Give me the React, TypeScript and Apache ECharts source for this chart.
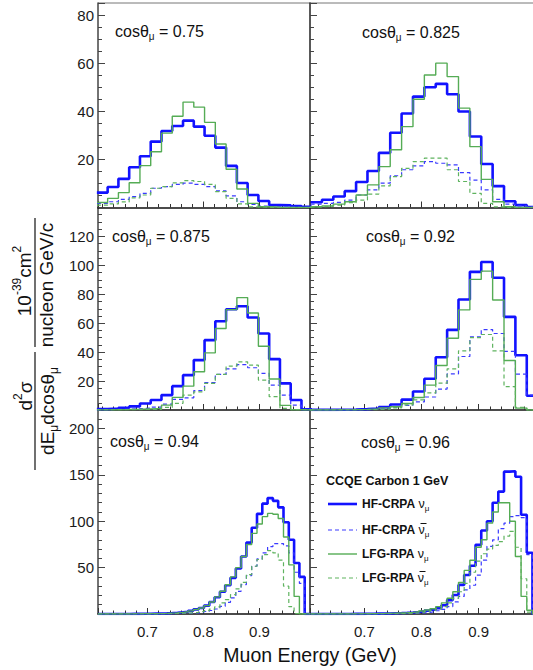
import React, { useEffect, useRef } from 'react';
import * as echarts from 'echarts';

const FONT = '"Liberation Sans", Arial, Helvetica, sans-serif';

// ---------- data ----------
const cosThetaValues = ['0.75', '0.825', '0.875', '0.92', '0.94', '0.96'];
const seriesNames = ['HF-CRPA νμ', 'HF-CRPA ν̄μ', 'LFG-RPA νμ', 'LFG-RPA ν̄μ'];

// first bin edge and bin width (GeV) of each panel's histograms
const binStart = [0.61, 0.606, 0.61, 0.606, 0.612, 0.606];
const binWidth = [0.0192, 0.0199, 0.0192, 0.0199, 0.00945, 0.00995];

// x ranges (left column / right column), y ranges per row
const xRangeLeft = [0.612, 0.99];
const xRangeRight = [0.605, 0.995];
const yMaxByRow = [85, 140, 220];
const yStepByRow = [20, 20, 50];
const yMinorSplitByRow = [4, 4, 5];
const xStep = 0.1;

// cos = 0.75
const c075HfNu = [6.2, 8.5, 11.9, 16.7, 21.3, 27.4, 31.8, 33.9, 36.1, 33.6, 29.8, 24.9, 17.3, 10.2, 5.2, 2.7, 1.0, 0.9, 0.6, 0.3];
const c075HfNubar = [1.7, 2.4, 3.4, 4.5, 5.9, 8.0, 8.7, 9.6, 10.1, 9.6, 8.7, 6.9, 4.8, 2.4, 1.3, 0.6, 0.3, 0.2, 0.1, 0];
const c075LfgNu = [2.1, 3.8, 6.2, 10.3, 17.4, 23.2, 30.9, 37.9, 43.8, 41.7, 35.4, 26.4, 15.9, 7.7, 1.7, 0.3, 0.1, 0, 0, 0];
const c075LfgNubar = [1.0, 1.5, 2.3, 4.0, 5.2, 8.0, 8.7, 10.2, 11.2, 10.8, 9.6, 6.6, 3.8, 1.5, 0.3, 0.1, 0, 0, 0, 0];

// cos = 0.825
const c0825HfNu = [2.2, 3.2, 4.6, 6.8, 10.6, 15.2, 22.7, 31.1, 39.1, 46.1, 50.0, 51.4, 47.1, 39.9, 29.5, 18.1, 8.9, 2.6, 1.0, 0.2];
const c0825HfNubar = [1.4, 1.7, 2.1, 3.1, 5.2, 7.3, 10.1, 13.2, 15.7, 17.3, 19.1, 18.4, 17.7, 14.5, 11.4, 7.3, 3.4, 1.4, 0.7, 0.3];
const c0825LfgNu = [0.3, 0.6, 1.4, 2.4, 5.2, 9.4, 17.0, 24.0, 33.6, 45.0, 55.1, 60.0, 54.4, 41.3, 25.3, 11.7, 2.4, 0.3, 0, 0];
const c0825LfgNubar = [0.3, 0.5, 1.0, 2.0, 3.1, 5.6, 9.0, 12.8, 16.3, 19.1, 20.5, 20.5, 15.7, 10.8, 5.9, 1.7, 0.3, 0, 0, 0];

// cos = 0.875
const c0875HfNu = [0.6, 1.0, 1.5, 2.5, 4.5, 6.9, 10.3, 16.5, 24.1, 34.5, 48.3, 61.4, 69.7, 71.7, 63.9, 52.9, 35.2, 18.4, 6.9, 0.5];
const c0875HfNubar = [0.2, 0.4, 0.6, 0.9, 1.3, 2.0, 4.0, 7.4, 8.4, 13.4, 18.9, 24.6, 28.5, 31.4, 29.2, 25.3, 17.2, 10.3, 3.4, 0.4];
const c0875LfgNu = [0.1, 0.2, 0.3, 0.5, 0.8, 1.1, 3.4, 8.7, 16.5, 26.4, 39.5, 56.3, 69.4, 77.7, 67.1, 44.1, 21.4, 3.2, 0.2, 0];
const c0875LfgNubar = [0.1, 0.2, 0.2, 0.3, 0.4, 0.5, 1.8, 4.6, 10.3, 12.6, 18.4, 24.6, 30.3, 33.3, 31.0, 20.7, 9.2, 1.1, 0.2, 0];

// cos = 0.92
const c092HfNu = [0.1, 0.1, 0.2, 0.3, 0.6, 1.0, 2.0, 3.8, 7.2, 12.8, 21.6, 36.5, 55.4, 76.4, 95.5, 102.3, 91.4, 64.4, 37.9, 9.9];
const c092HfNubar = [0, 0.1, 0.1, 0.2, 0.3, 0.6, 1.0, 1.8, 3.2, 5.6, 9.0, 14.5, 25.0, 37.0, 50.5, 55.6, 52.9, 40.6, 24.8, 10.3];
const c092LfgNu = [0, 0, 0.1, 0.2, 0.4, 0.8, 1.5, 2.2, 4.5, 8.6, 17.2, 30.8, 49.6, 69.2, 90.3, 96.0, 76.0, 34.2, 1.3, 0];
const c092LfgNubar = [0, 0, 0.1, 0.1, 0.2, 0.3, 0.6, 1.5, 3.5, 7.0, 11.8, 18.6, 28.5, 40.9, 50.1, 52.2, 40.9, 16.1, 1.8, 0];

// cos = 0.94
const c094HfNu = [0, 0, 0, 0, 0, 0, 0.1, 0.1, 0.2, 0.3, 0.4, 0.5, 0.7, 1.0, 1.4, 1.9, 2.5, 3.5, 5.0, 6.5, 9, 13, 18, 24, 31, 39, 49, 62, 77, 93, 108, 119, 125, 122, 115, 99, 80, 55, 40, 0];
const c094HfNubar = [0, 0, 0, 0, 0, 0, 0, 0.1, 0.1, 0.1, 0.2, 0.2, 0.3, 0.4, 0.5, 0.6, 0.8, 0.9, 1.3, 1.9, 2.7, 3.8, 5.4, 8.3, 12.6, 17.3, 24.5, 31.7, 41.4, 51.5, 59.5, 65.9, 72.6, 76, 76, 73.5, 65.9, 45, 33, 0];
const c094LfgNu = [0, 0, 0, 0, 0, 0, 0.1, 0.1, 0.2, 0.2, 0.3, 0.4, 0.6, 0.9, 1.2, 1.7, 2.4, 3.4, 4.8, 6.5, 9, 13, 18.5, 24.5, 31.5, 40, 50, 62, 75, 87, 97, 105, 108.5, 107.5, 103, 83, 53, 19, 0, 0];
const c094LfgNubar = [0, 0, 0, 0, 0, 0, 0, 0.1, 0.1, 0.2, 0.2, 0.3, 0.4, 0.5, 0.6, 0.8, 1.0, 1.3, 1.7, 2.5, 3.6, 5.3, 7.6, 11.9, 15.5, 20.9, 27, 34.2, 42.5, 51.5, 58.8, 64.1, 68.4, 65.9, 58, 30, 8, 0.5, 0, 0];

// cos = 0.96
const c096HfNu = [0, 0, 0, 0, 0, 0, 0, 0.1, 0.1, 0.2, 0.3, 0.4, 0.5, 0.6, 0.8, 1.0, 1.3, 1.7, 2.2, 2.8, 3.6, 4.6, 6.2, 9.5, 15, 20.5, 31.4, 42, 52, 74.6, 90, 100, 120, 132, 153.5, 154, 148, 107, 66, 0];
const c096HfNubar = [0, 0, 0, 0, 0, 0, 0, 0, 0.1, 0.1, 0.1, 0.2, 0.2, 0.3, 0.3, 0.4, 0.4, 0.6, 0.9, 1.3, 1.8, 2.5, 3.5, 5, 8, 13, 19, 26, 31, 42, 58, 73, 80, 92, 98, 105, 106, 104, 64, 0];
const c096LfgNu = [0, 0, 0, 0, 0, 0, 0, 0.1, 0.1, 0.2, 0.3, 0.4, 0.5, 0.7, 0.9, 1.1, 1.3, 1.8, 2.5, 3.3, 4.3, 5.6, 8, 12, 17, 24, 34, 47, 58, 72, 80, 98, 110, 120, 120, 100, 62, 19, 4, 0];
const c096LfgNubar = [0, 0, 0, 0, 0, 0, 0, 0, 0.1, 0.1, 0.2, 0.2, 0.3, 0.3, 0.4, 0.5, 0.5, 0.8, 1.2, 1.8, 2.6, 3.8, 5.5, 8, 12, 17, 24, 33, 45, 57, 65, 70, 74, 78, 84, 89, 72, 38, 2, 0];

const panelSeries = [
  [c075HfNu, c075HfNubar, c075LfgNu, c075LfgNubar],
  [c0825HfNu, c0825HfNubar, c0825LfgNu, c0825LfgNubar],
  [c0875HfNu, c0875HfNubar, c0875LfgNu, c0875LfgNubar],
  [c092HfNu, c092HfNubar, c092LfgNu, c092LfgNubar],
  [c094HfNu, c094HfNubar, c094LfgNu, c094LfgNubar],
  [c096HfNu, c096HfNubar, c096LfgNu, c096LfgNubar],
];

// ---------- layout & style ----------
const COL_LEFT = [98, 310];
const COL_WIDTH = [212, 223];
const ROW_TOP = [3, 207.5, 410];
const ROW_HEIGHT = [204.5, 202.5, 204];
const LABEL_POS = [[115, 31], [362, 32], [112, 236], [366, 236], [110, 441], [361, 442]];

const LINE_STYLES = [
  { color: '#1212ff', width: 2.6, type: 'solid' as any, z: 3 },
  { color: '#3a3aff', width: 1.2, type: [4, 3] as any, z: 3 },
  { color: '#55ac55', width: 1.4, type: 'solid' as any, z: 4 },
  { color: '#5fb35f', width: 1.2, type: [4, 3] as any, z: 4 },
];

function histPoints(start: number, width: number, vals: number[]) {
  const pts: number[][] = [];
  vals.forEach((v, k) => {
    const a = start + k * width;
    pts.push([a, v], [a + width, v]);
  });
  pts.push([start + vals.length * width, 0]);
  return pts;
}

function buildOption() {
  const grid: any[] = [];
  const xAxis: any[] = [];
  const yAxis: any[] = [];
  const series: any[] = [];
  for (let i = 0; i < 6; i++) {
    const col = i % 2;
    const row = Math.floor(i / 2);
    grid.push({ left: COL_LEFT[col], top: ROW_TOP[row], width: COL_WIDTH[col], height: ROW_HEIGHT[row] });
    const xr = col === 0 ? xRangeLeft : xRangeRight;
    xAxis.push({
      type: 'value', gridIndex: i, min: xr[0], max: xr[1],
      splitNumber: 4, minInterval: xStep, maxInterval: xStep,
      axisLine: { show: true, onZero: false, lineStyle: { color: '#111', width: 1.5 } },
      axisTick: { show: true, inside: true, length: 6, lineStyle: { color: '#333', width: 1 } },
      minorTick: { show: true, splitNumber: 5, length: 3.5, lineStyle: { color: '#333', width: 1 } },
      axisLabel: {
        show: row === 2, margin: 10, fontSize: 15, color: '#1a1a1a', fontFamily: FONT,
        showMinLabel: false, showMaxLabel: false, formatter: (v: number) => v.toFixed(1),
      },
      splitLine: { show: false },
    });
    yAxis.push({
      type: 'value', gridIndex: i, min: 0, max: yMaxByRow[row],
      splitNumber: 5, minInterval: yStepByRow[row], maxInterval: yStepByRow[row],
      axisLine: { show: true, onZero: false, lineStyle: { color: col === 0 ? '#444' : '#222', width: 1.5 } },
      axisTick: { show: true, inside: true, length: 7, lineStyle: { color: '#444', width: 1 } },
      minorTick: { show: true, splitNumber: yMinorSplitByRow[row], length: 4, lineStyle: { color: '#444', width: 1 } },
      axisLabel: {
        show: col === 0, margin: 4, fontSize: 15, color: '#1a1a1a', fontFamily: FONT,
        showMinLabel: false, showMaxLabel: false,
      },
      splitLine: { show: false },
    });
    panelSeries[i].forEach((vals, s) => {
      const st = LINE_STYLES[s];
      series.push({
        type: 'line', name: seriesNames[s], xAxisIndex: i, yAxisIndex: i,
        data: histPoints(binStart[i], binWidth[i], vals),
        showSymbol: false, symbol: 'none', clip: true, z: st.z,
        lineStyle: { color: st.color, width: st.width, type: st.type },
        itemStyle: { color: st.color },
      });
    });
  }

  const graphic: any[] = [];
  graphic.push({ type: 'line', silent: true, shape: { x1: 98, y1: 3, x2: 533, y2: 3 }, style: { stroke: '#777', lineWidth: 1 } });

  const cosRich = {
    a: { fontSize: 16, fontFamily: FONT, fill: '#111', lineHeight: 20 },
    s: { fontSize: 10, fontFamily: FONT, fill: '#111', lineHeight: 20, verticalAlign: 'bottom' },
  };
  cosThetaValues.forEach((c, i) => {
    graphic.push({
      type: 'text', silent: true, x: LABEL_POS[i][0], y: LABEL_POS[i][1],
      style: { text: `{a|cosθ}{s|μ}{a| = ${c}}`, rich: cosRich, align: 'left', verticalAlign: 'middle', textAlign: 'left', textVerticalAlign: 'middle' },
    });
  });

  // y axis title (rotated fractions)
  const tRich = {
    n: { fontSize: 19, fontFamily: FONT, fill: '#111', lineHeight: 26 },
    sup: { fontSize: 12, fontFamily: FONT, fill: '#111', lineHeight: 26, verticalAlign: 'top' },
    sub: { fontSize: 12, fontFamily: FONT, fill: '#111', lineHeight: 26, verticalAlign: 'bottom' },
  };
  const rot = Math.PI / 2;
  const rotText = (x: number, y: number, text: string) => ({
    type: 'text', silent: true, x, y, rotation: rot,
    style: { text, rich: tRich, align: 'center', verticalAlign: 'middle', textAlign: 'center', textVerticalAlign: 'middle' },
  });
  graphic.push(rotText(24, 281, '{n|10}{sup|-39}{n|cm}{sup|2}'));
  graphic.push(rotText(46, 285, '{n|nucleon GeV/c}'));
  graphic.push(rotText(25, 396, '{n|d}{sup|2}{n|σ}'));
  graphic.push(rotText(47, 411, '{n|dE}{sub|μ}{n|dcosθ}{sub|μ}'));
  graphic.push({ type: 'line', silent: true, shape: { x1: 35, y1: 218, x2: 35, y2: 347 }, style: { stroke: '#111', lineWidth: 1.2 } });
  graphic.push({ type: 'line', silent: true, shape: { x1: 35, y1: 352, x2: 35, y2: 470 }, style: { stroke: '#111', lineWidth: 1.2 } });

  // x axis title
  graphic.push({
    type: 'text', silent: true, x: 310, y: 655,
    style: { text: 'Muon Energy (GeV)', fontSize: 19.5, fontFamily: FONT, fill: '#111', align: 'center', verticalAlign: 'middle', textAlign: 'center', textVerticalAlign: 'middle' },
  });

  // legend
  graphic.push({
    type: 'text', silent: true, x: 326, y: 481,
    style: { text: 'CCQE Carbon 1 GeV', fontSize: 12.5, fontWeight: 'bold', fontFamily: FONT, fill: '#111', align: 'left', verticalAlign: 'middle', textAlign: 'left', textVerticalAlign: 'middle' },
  });
  const legRich = {
    b: { fontSize: 12, fontWeight: 'bold', fontFamily: FONT, fill: '#111', lineHeight: 16 },
    g: { fontSize: 12.5, fontFamily: FONT, fill: '#111', lineHeight: 16 },
    s: { fontSize: 8, fontFamily: FONT, fill: '#111', lineHeight: 16, verticalAlign: 'bottom' },
  };
  const legY = [504, 530, 554, 578];
  const legTexts = ['{b|HF-CRPA }{g|ν}{s|μ}', '{b|HF-CRPA }{g|ν}{s|μ}', '{b|LFG-RPA }{g|ν}{s|μ}', '{b|LFG-RPA }{g|ν}{s|μ}'];
  const legBar = [false, true, false, true];
  legY.forEach((y, s) => {
    const st = LINE_STYLES[s];
    graphic.push({
      type: 'line', silent: true, shape: { x1: 328, y1: y, x2: 357, y2: y },
      style: { stroke: st.color, lineWidth: st.width, lineDash: Array.isArray(st.type) ? st.type : null },
    });
    graphic.push({
      type: 'text', silent: true, x: 362, y,
      style: { text: legTexts[s], rich: legRich, align: 'left', verticalAlign: 'middle', textAlign: 'left', textVerticalAlign: 'middle' },
    });
    if (legBar[s]) {
      const bx = s === 1 ? 420.5 : 419.5;
      graphic.push({
        type: 'line', silent: true, shape: { x1: bx, y1: y - 6.5, x2: bx + 6, y2: y - 6.5 },
        style: { stroke: '#111', lineWidth: 1 },
      });
    }
  });

  return { animation: false, backgroundColor: '#fff', grid, xAxis, yAxis, series, graphic };
}

export default function App() {
  const ref = useRef<HTMLDivElement>(null);
  useEffect(() => {
    if (!ref.current) return;
    const chart = echarts.init(ref.current, undefined, { renderer: 'svg' });
    chart.setOption(buildOption() as any);
    return () => chart.dispose();
  }, []);
  return (
    <div
      ref={ref}
      style={{ position: 'fixed', left: 0, top: 0, width: 533, height: 670, background: '#fff' }}
    />
  );
}
